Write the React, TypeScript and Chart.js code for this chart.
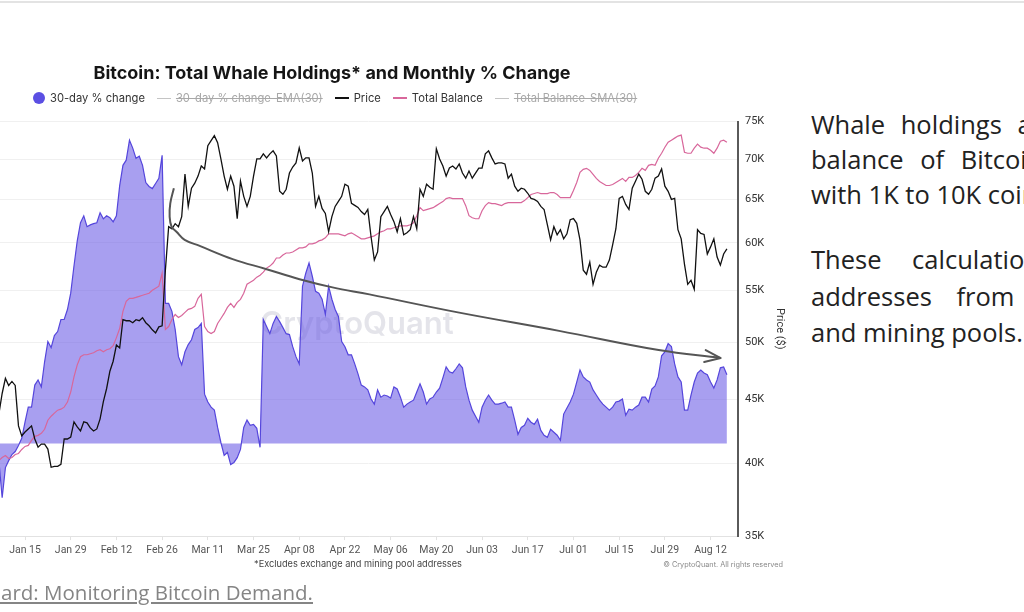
import React, { useEffect, useRef } from "react";
import { Chart, registerables } from "chart.js";

Chart.register(...registerables);

// ---- data (day index: 0 = 2024-01-01) ----
const FIRST_DAY = 6; // day of the first value in each series below

const X_TICK_DAYS = [14, 28, 42, 56, 70, 84, 98, 112, 126, 140, 154, 168, 182, 196, 210, 224];
const X_TICK_LABELS = [
  "Jan 15", "Jan 29", "Feb 12", "Feb 26", "Mar 11", "Mar 25", "Apr 08", "Apr 22",
  "May 06", "May 20", "Jun 03", "Jun 17", "Jul 01", "Jul 15", "Jul 29", "Aug 12",
];
const PRICE_TICKS_K = [35, 40, 45, 50, 55, 60, 65, 70, 75];

// 30-day % change of whale holdings
const CHANGE_30D = [
  -0.57, -1.8, -0.8, -0.57, -0.37, -0.27, -0.07, 0.17, 0.7, 1.2,
  1.2, 1.93, 2.1, 1.87, 2.7, 3.37, 3.17, 3.57, 3.7, 4.1,
  4.1, 4.43, 4.97, 5.87, 6.7, 7.3, 7.53, 7.17, 7.23, 7.27,
  7.3, 7.63, 7.43, 7.53, 7.47, 7.33, 7.53, 8.53, 9.2, 9.37,
  10.03, 9.77, 9.43, 9.5, 9.2, 8.63, 8.5, 8.43, 8.6, 8.77,
  9.53, 4.63, 4.63, 4.37, 3.77, 2.87, 2.6, 3.03, 3.27, 3.43,
  3.77, 3.83, 3.97, 1.63, 1.37, 1.2, 1.1, 0.53, 0.03, -0.4,
  -0.3, -0.7, -0.63, -0.47, -0.2, 0.53, 0.77, 0.6, 0.63, 0.5,
  -0.13, 4.1, 3.87, 3.63, 3.97, 4.2, 4.03, 3.83, 3.63, 3.6,
  3.2, 2.87, 2.63, 5.2, 5.63, 5.97, 5.53, 5.03, 4.97, 4.77,
  4.27, 5.2, 4.77, 4.43, 4.2, 3.37, 3.2, 2.93, 2.93, 2.63,
  2.3, 1.93, 1.87, 1.77, 1.47, 1.3, 1.77, 1.53, 1.6, 1.57,
  1.5, 1.87, 1.8, 1.53, 1.2, 1.3, 1.37, 1.43, 1.7, 1.97,
  1.7, 1.3, 1.47, 1.53, 1.7, 1.83, 2.17, 2.53, 2.37, 2.33,
  2.47, 2.63, 2.5, 1.87, 1.43, 1.1, 0.9, 0.7, 1.2, 1.43,
  1.6, 1.43, 1.3, 1.3, 1.33, 1.37, 1.2, 1.2, 0.77, 0.3,
  0.53, 0.6, 0.83, 0.7, 0.63, 0.8, 0.43, 0.27, 0.2, 0.47,
  0.37, 0.27, 0.1, 0.97, 1.17, 1.37, 1.63, 2.03, 2.43, 2.2,
  2.1, 2.03, 1.77, 1.6, 1.43, 1.3, 1.2, 1.1, 1.2, 1.37,
  1.4, 1.47, 0.93, 1.13, 1.1, 1.2, 1.27, 1.53, 1.53, 1.37,
  1.8, 1.9, 2.2, 2.9, 3.03, 3.3, 3.2, 2.63, 2.2, 2.03,
  1.1, 1.1, 1.6, 2.03, 2.33, 2.43, 2.33, 2.27, 2.03, 1.83,
  2.1, 2.5, 2.53, 2.27,
];

// Bitcoin price, thousand USD
const PRICE_K = [
  43.83, 45.49, 46.77, 46.17, 46.51, 46.17, 42.86, 42.07, 42.38, 42.62,
  42.86, 41.84, 41.22, 41.45, 41.45, 41.07, 39.72, 39.79, 39.79, 39.94,
  41.84, 41.84, 41.99, 43.18, 42.78, 42.46, 43.18, 43.1, 42.7, 42.46,
  42.62, 43.42, 44.82, 45.91, 47.39, 48.27, 49.73, 49.46, 52.1, 52.0,
  52.0, 51.81, 52.1, 52.0, 52.29, 51.81, 51.52, 51.14, 50.85, 51.42,
  51.52, 57.07, 61.81, 61.58, 62.16, 61.81, 62.97, 68.09, 64.16, 66.34,
  66.96, 67.84, 69.11, 68.73, 71.73, 72.4, 73.07, 72.13, 70.01, 67.84,
  66.22, 67.84, 66.59, 62.74, 67.21, 65.36, 64.16, 65.36, 67.84, 70.01,
  70.01, 70.67, 70.15, 70.67, 71.06, 70.41, 65.97, 65.6, 66.22, 68.22,
  68.98, 69.5, 71.46, 69.75, 70.15, 70.15, 68.22, 64.16, 65.36, 63.92,
  63.33, 61.24, 62.97, 64.16, 64.76, 65.36, 66.84, 66.59, 64.52, 64.28,
  64.04, 63.56, 63.21, 63.8, 60.68, 58.14, 59.01, 62.97, 63.56, 64.16,
  63.21, 62.39, 61.24, 62.74, 60.9, 61.13, 61.47, 62.97, 61.58, 66.22,
  65.36, 66.84, 66.46, 66.22, 71.33, 70.01, 69.11, 67.84, 68.85, 69.11,
  68.73, 69.37, 68.22, 67.58, 68.47, 67.58, 68.22, 68.85, 68.85, 70.67,
  71.06, 70.15, 69.37, 69.5, 69.5, 69.37, 67.58, 68.09, 66.59, 65.97,
  66.34, 66.22, 65.73, 65.12, 65.0, 64.76, 64.16, 63.8, 62.04, 60.34,
  61.81, 60.9, 61.47, 60.45, 61.01, 62.62, 62.74, 62.2, 60.34, 57.07,
  56.64, 57.92, 55.6, 56.85, 57.6, 57.38, 57.38, 58.14, 59.78, 61.58,
  65.12, 65.36, 64.4, 63.8, 66.34, 67.21, 68.09, 67.45, 65.97, 65.6,
  66.22, 67.58, 67.84, 68.73, 66.59, 65.97, 65.0, 65.12, 61.47, 60.45,
  57.71, 55.6, 56.01, 55.09, 61.47, 61.06, 60.94, 58.79, 59.56, 60.45,
  58.46, 57.6, 58.79, 59.34,
];

// Total whale balance (thousand BTC)
const TOTAL_BALANCE_K = [
  3973, 3976, 3978, 3975, 3976, 3979, 3980, 3984, 3987, 3988,
  3993, 3997, 3998, 4000, 4004, 4013, 4017, 4020, 4023, 4024,
  4026, 4031, 4041, 4056, 4068, 4076, 4078, 4078, 4079, 4080,
  4082, 4083, 4081, 4083, 4084, 4087, 4095, 4104, 4121, 4131,
  4134, 4134, 4135, 4136, 4137, 4138, 4139, 4142, 4144, 4146,
  4159, 4103, 4106, 4113, 4118, 4115, 4117, 4120, 4123, 4124,
  4126, 4134, 4138, 4106, 4101, 4099, 4101, 4109, 4114, 4119,
  4125, 4129, 4125, 4130, 4133, 4139, 4148, 4150, 4152, 4155,
  4157, 4160, 4164, 4166, 4169, 4174, 4174, 4177, 4179, 4179,
  4180, 4182, 4184, 4184, 4185, 4188, 4188, 4189, 4191, 4192,
  4194, 4198, 4198, 4198, 4198, 4197, 4196, 4198, 4199, 4197,
  4195, 4193, 4193, 4194, 4195, 4196, 4198, 4200, 4201, 4203,
  4203, 4204, 4205, 4206, 4206, 4206, 4207, 4209, 4216, 4224,
  4221, 4222, 4223, 4224, 4226, 4228, 4230, 4233, 4234, 4233,
  4233, 4233, 4233, 4226, 4216, 4214, 4213, 4213, 4221, 4226,
  4229, 4228, 4228, 4227, 4226, 4228, 4229, 4229, 4229, 4229,
  4229, 4231, 4234, 4237, 4238, 4239, 4238, 4238, 4238, 4239,
  4239, 4237, 4234, 4234, 4234, 4234, 4241, 4249, 4259, 4262,
  4263, 4261, 4257, 4253, 4250, 4248, 4246, 4246, 4247, 4249,
  4251, 4253, 4250, 4254, 4254, 4256, 4259, 4263, 4261, 4266,
  4267, 4266, 4273, 4278, 4284, 4289, 4291, 4293, 4295, 4296,
  4279, 4278, 4278, 4283, 4287, 4284, 4283, 4283, 4281, 4278,
  4283, 4290, 4291, 4289,
];

// hand-drawn trend arrow annotation (day, price in thousand USD)
const ARROW_DAYS = [59.6, 58.5, 58.3, 58.9, 60.4, 62.9, 67.5, 77.6, 88.0, 98.1, 108.2, 119.5, 147.0, 177.6, 208.1, 227.1];
const ARROW_PRICE_K = [66.34, 64.52, 62.97, 61.81, 61.24, 60.34, 59.67, 58.24, 57.17, 56.12, 55.29, 54.58, 52.78, 51.04, 49.27, 48.55];

const LEGEND_ITEMS = [
  { label: "30-day % change", kind: "dot", color: "#5b4fe3", hidden: false },
  { label: "30-day % change-EMA(30)", kind: "thin", color: "#c4c4c4", hidden: true },
  { label: "Price", kind: "line", color: "#111111", hidden: false },
  { label: "Total Balance", kind: "line", color: "#d8679b", hidden: false },
  { label: "Total Balance-SMA(30)", kind: "thin", color: "#c4c4c4", hidden: true },
];

const TITLE = "Bitcoin: Total Whale Holdings* and Monthly % Change";
const FOOTNOTE = "*Excludes exchange and mining pool addresses";
const COPYRIGHT = "\u00A9 CryptoQuant. All rights reserved";
const WATERMARK = "CryptoQuant";
const PARAGRAPH_1 = ["Whale holdings are the total", "balance of Bitcoin held by addresses", "with 1K to 10K coins."];
const PARAGRAPH_2 = ["These calculations exclude", "addresses from exchanges", "and mining pools."];
const LINK_TEXT = "Dashboard: Monitoring Bitcoin Demand.";

const toPoints = (vals: number[]) => vals.map((v, i) => ({ x: FIRST_DAY + i, y: v }));

const watermarkPlugin = {
  id: "watermark",
  beforeDatasetsDraw(chart: any) {
    const { ctx, chartArea } = chart;
    ctx.save();
    ctx.font = "600 31px Inter";
    ctx.fillStyle = "rgba(190, 190, 206, 0.42)";
    ctx.textAlign = "center";
    ctx.textBaseline = "middle";
    ctx.fillText(WATERMARK, (chartArea.left + chartArea.right) / 2 - 12, (chartArea.top + chartArea.bottom) / 2 - 4);
    ctx.restore();
  },
};

const arrowHeadPlugin = {
  id: "arrowHead",
  afterDatasetsDraw(chart: any) {
    const meta = chart.getDatasetMeta(3);
    const pts = meta.data;
    if (!pts || pts.length < 2) return;
    const tip: any = pts[pts.length - 1];
    const prev: any = pts[pts.length - 2];
    let fx = tip.cp1x ?? prev.x;
    let fy = tip.cp1y ?? prev.y;
    if (Math.hypot(tip.x - fx, tip.y - fy) < 1) {
      fx = prev.x;
      fy = prev.y;
    }
    const ang = Math.atan2(tip.y - fy, tip.x - fx);
    const len = 17;
    const spread = 0.36;
    const ctx = chart.ctx;
    ctx.save();
    ctx.strokeStyle = "#555555";
    ctx.lineWidth = 2;
    ctx.lineCap = "round";
    ctx.lineJoin = "round";
    ctx.beginPath();
    ctx.moveTo(tip.x - len * Math.cos(ang - spread), tip.y - len * Math.sin(ang - spread));
    ctx.lineTo(tip.x, tip.y);
    ctx.lineTo(tip.x - len * Math.cos(ang + spread), tip.y - len * Math.sin(ang + spread));
    ctx.stroke();
    ctx.restore();
  },
};

function LegendMarker({ kind, color }: { kind: string; color: string }) {
  if (kind === "dot") {
    return <span style={{ display: "inline-block", width: 12, height: 12, borderRadius: 6, background: color }} />;
  }
  return (
    <span
      style={{ display: "inline-block", width: 14, height: kind === "thin" ? 1 : 2, background: color }}
    />
  );
}

export default function App() {
  const canvasRef = useRef<HTMLCanvasElement | null>(null);

  useEffect(() => {
    if (!canvasRef.current) return;
    Chart.defaults.font.family = "Inter";
    const chart = new Chart(canvasRef.current, {
      type: "line",
      data: {
        datasets: [
          {
            label: "30-day % change",
            data: toPoints(CHANGE_30D),
            yAxisID: "yChange",
            borderColor: "#5546dc",
            borderWidth: 1.2,
            backgroundColor: "rgba(110, 95, 230, 0.6)",
            fill: "origin",
            pointRadius: 0,
            tension: 0,
            order: 4,
          },
          {
            label: "Price",
            data: toPoints(PRICE_K),
            yAxisID: "yPrice",
            borderColor: "#111111",
            borderWidth: 1.3,
            pointRadius: 0,
            tension: 0,
            fill: false,
            order: 2,
          },
          {
            label: "Total Balance",
            data: toPoints(TOTAL_BALANCE_K),
            yAxisID: "yBalance",
            borderColor: "#d8679b",
            borderWidth: 1.2,
            pointRadius: 0,
            tension: 0,
            fill: false,
            order: 3,
          },
          {
            label: "trend",
            data: ARROW_DAYS.map((d, i) => ({ x: d, y: ARROW_PRICE_K[i] })),
            yAxisID: "yPrice",
            borderColor: "#555555",
            borderWidth: 2,
            pointRadius: 0,
            tension: 0.4,
            fill: false,
            order: 1,
          },
        ],
      },
      options: {
        animation: false,
        responsive: false,
        maintainAspectRatio: false,
        layout: { padding: { top: 121.5, right: 9.4, bottom: 52.3, left: 0 } },
        plugins: {
          legend: { display: false },
          tooltip: { enabled: false },
          title: { display: false },
        },
        scales: {
          x: {
            type: "linear",
            min: 6.34,
            max: 232.4,
            afterBuildTicks: (scale: any) => {
              scale.ticks = X_TICK_DAYS.map((v) => ({ value: v }));
            },
            ticks: {
              autoSkip: false,
              maxRotation: 0,
              padding: 3.5,
              color: "#555555",
              font: { size: 10.5, family: "Roboto" },
              callback: (_v: any, i: number) => X_TICK_LABELS[i],
            },
            grid: { drawOnChartArea: false, drawTicks: true, tickLength: 4, color: "#e2e2e2" },
            border: { display: true, color: "#e2e2e2", width: 1 },
          },
          yPrice: {
            type: "logarithmic",
            position: "right",
            min: 35,
            max: 75,
            afterBuildTicks: (scale: any) => {
              scale.ticks = PRICE_TICKS_K.map((v) => ({ value: v }));
            },
            afterFit: (scale: any) => {
              scale.width = 52.6;
            },
            ticks: {
              padding: 7,
              color: "#333333",
              font: { size: 11, family: "Roboto" },
              callback: (v: any) => `${v}K`,
            },
            grid: { color: "#f0f0f0", drawTicks: false, tickLength: 0 },
            border: { display: true, color: "#5a5a5a", width: 2 },
            title: { display: true, text: "Price ($)", color: "#333333", font: { size: 11, family: "Roboto" } },
          },
          yChange: {
            type: "linear",
            display: false,
            min: -3.067,
            max: 10.65,
          },
          yBalance: {
            type: "linear",
            display: false,
            min: 3898,
            max: 4309.5,
          },
        },
      },
      plugins: [watermarkPlugin, arrowHeadPlugin],
    } as any);
    return () => chart.destroy();
  }, []);

  const paraLine = (text: string, top: number, wordSpacing: number) => (
    <div
      key={text}
      style={{
        position: "absolute",
        left: 811,
        top,
        font: '25.5px "Open Sans"',
        lineHeight: "36px",
        color: "#222222",
        whiteSpace: "nowrap",
        wordSpacing,
      }}
    >
      {text}
    </div>
  );

  return (
    <div
      style={{
        position: "fixed",
        left: 0,
        top: 0,
        width: 1024,
        height: 612,
        overflow: "hidden",
        background: "#ffffff",
      }}
    >
      <div style={{ position: "absolute", left: 0, top: 1, width: 1024, height: 2, background: "#e3e3e3" }} />
      <canvas
        ref={canvasRef}
        width={800}
        height={612}
        style={{ position: "absolute", left: 0, top: 0, width: 800, height: 612 }}
      />
      <div
        style={{
          position: "absolute",
          left: 332,
          top: 72,
          transform: "translate(-50%, -50%)",
          whiteSpace: "nowrap",
          font: "700 18px Inter",
          color: "#151515",
        }}
      >
        {TITLE}
      </div>
      <div
        style={{
          position: "absolute",
          left: 33,
          top: 98,
          transform: "translateY(-50%)",
          display: "flex",
          alignItems: "center",
          whiteSpace: "nowrap",
          font: "11.2px Inter",
        }}
      >
        {LEGEND_ITEMS.map((it, i) => (
          <span
            key={it.label}
            style={{ display: "inline-flex", alignItems: "center", marginLeft: i === 0 ? 0 : 12 }}
          >
            <LegendMarker kind={it.kind} color={it.color} />
            <span
              style={{
                marginLeft: 5,
                color: it.hidden ? "#a8a8a8" : "#333333",
                textDecoration: it.hidden ? "line-through" : "none",
              }}
            >
              {it.label}
            </span>
          </span>
        ))}
      </div>
      <div
        style={{
          position: "absolute",
          left: 358,
          top: 563,
          transform: "translate(-50%, -50%)",
          whiteSpace: "nowrap",
          font: "9.2px Inter",
          color: "#444444",
        }}
      >
        {FOOTNOTE}
      </div>
      <div
        style={{
          position: "absolute",
          left: 783,
          top: 564,
          transform: "translate(-100%, -50%)",
          whiteSpace: "nowrap",
          font: "7.3px Inter",
          color: "#8a8a8a",
        }}
      >
        {COPYRIGHT}
      </div>
      {paraLine(PARAGRAPH_1[0], 106, 9)}
      {paraLine(PARAGRAPH_1[1], 141, 10)}
      {paraLine(PARAGRAPH_1[2], 176, 0)}
      {paraLine(PARAGRAPH_2[0], 241, 24)}
      {paraLine(PARAGRAPH_2[1], 278, 18)}
      {paraLine(PARAGRAPH_2[2], 314, 0)}
      <div
        style={{
          position: "absolute",
          left: 313,
          top: 592,
          transform: "translate(-100%, -50%)",
          whiteSpace: "nowrap",
          font: '20.5px "Open Sans"',
          color: "#858585",
          textDecoration: "underline",
        }}
      >
        {LINK_TEXT}
      </div>
    </div>
  );
}
